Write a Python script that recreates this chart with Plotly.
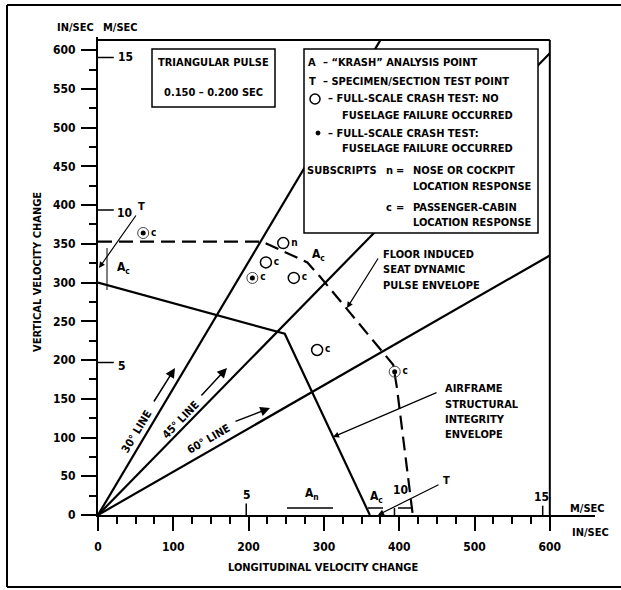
import plotly.graph_objects as go

# ---------------- data (in/sec) ----------------
airframe_x = [0, 248, 361]
airframe_y = [300, 234, 0]
floor_x = [0, 218, 278, 295, 392, 397, 418]
floor_y = [353, 353, 326, 307.5, 194, 164, 0]
line30_x = [0, 375]
line30_y = [0, 613]
line45_x = [0, 600]
line45_y = [0, 596]
line60_x = [0, 600]
line60_y = [0, 335]
open_x = [246, 223, 260, 291]
open_y = [351, 326, 306, 213]
open_sub = ["n", "c", "c", "c"]
fail_x = [60, 205, 394]
fail_y = [364, 306, 185]
fail_sub = ["c", "c", "c"]
y_ticks = list(range(0, 601, 50))
x_ticks = list(range(0, 601, 100))
ms_ticks = [5, 10, 15]
IN_PER_M = 39.37

FONT = "Liberation Sans Narrow, DejaVu Sans Condensed, Arial Narrow, Liberation Sans, sans-serif"
FS = 11

# plot area in pixels
L, R, T, B = 98, 595, 37, 515
W, H = R - L, B - T
XMAX, YMAX = 660, 617


def PX(x):
    return (x - L) / W


def PY(y):
    return (B - y) / H


fig = go.Figure()

blk = dict(color="black", width=2.2)
for xs, ys in [(airframe_x, airframe_y), (line30_x, line30_y),
               (line45_x, line45_y), (line60_x, line60_y)]:
    fig.add_trace(go.Scatter(x=xs, y=ys, mode="lines", line=blk,
                             hoverinfo="skip", showlegend=False))
fig.add_trace(go.Scatter(x=floor_x, y=floor_y, mode="lines",
                         line=dict(color="black", width=2.2, dash="14px,7px"),
                         hoverinfo="skip", showlegend=False))

# open circles
fig.add_trace(go.Scatter(x=open_x, y=open_y, mode="markers+text",
                         text=open_sub, textposition="middle right",
                         textfont=dict(family=FONT, size=10, color="black", weight="bold"),
                         marker=dict(symbol="circle-open", size=11, color="black",
                                     line=dict(color="black", width=1.5)),
                         cliponaxis=False, showlegend=False))
# failure points: thin circle + dot
fig.add_trace(go.Scatter(x=fail_x, y=fail_y, mode="markers+text",
                         text=fail_sub, textposition="middle right",
                         textfont=dict(family=FONT, size=10, color="black", weight="bold"),
                         marker=dict(symbol="circle-open", size=11, color="#444",
                                     line=dict(color="#444", width=1)),
                         cliponaxis=False, showlegend=False))
fig.add_trace(go.Scatter(x=fail_x, y=fail_y, mode="markers",
                         marker=dict(symbol="circle", size=5, color="black"),
                         cliponaxis=False, showlegend=False))

shapes = []
# frame top and right
shapes.append(dict(type="line", xref="x", yref="y", x0=0, x1=600, y0=613, y1=613,
                   line=dict(color="black", width=2)))
shapes.append(dict(type="line", xref="x", yref="y", x0=600, x1=600, y0=0, y1=613,
                   line=dict(color="black", width=2)))
# m/sec ticks on y axis
for m in ms_ticks:
    shapes.append(dict(type="line", xref="x", yref="y", x0=0, x1=21,
                       y0=m * IN_PER_M, y1=m * IN_PER_M, line=dict(color="black", width=1.5)))
# m/sec ticks on x axis
for m, ln in zip(ms_ticks, [15, 9, 12]):
    shapes.append(dict(type="line", xref="x", yref="y", x0=m * IN_PER_M, x1=m * IN_PER_M,
                       y0=0, y1=ln, line=dict(color="black", width=1.5)))

# boxes
shapes.append(dict(type="rect", xref="paper", yref="paper", x0=PX(304), x1=PX(538),
                   y0=PY(233), y1=PY(49), fillcolor="white",
                   line=dict(color="black", width=1.5), layer="above"))
shapes.append(dict(type="rect", xref="paper", yref="paper", x0=PX(152), x1=PX(275),
                   y0=PY(107), y1=PY(49), fillcolor="white",
                   line=dict(color="black", width=1.5), layer="above"))
# legend symbols
shapes.append(dict(type="circle", xref="paper", yref="paper", x0=PX(310), x1=PX(320),
                   y0=PY(104), y1=PY(94), line=dict(color="black", width=1.5), layer="above"))
shapes.append(dict(type="circle", xref="paper", yref="paper", x0=PX(316), x1=PX(320),
                   y0=PY(135), y1=PY(131), fillcolor="black",
                   line=dict(color="black", width=1), layer="above"))

# dimension marks
thin = dict(color="black", width=1)
shapes.append(dict(type="line", xref="paper", yref="paper", x0=PX(107), x1=PX(107),
                   y0=PY(290), y1=PY(248), line=thin))
for a, b in [(287, 333), (368, 383), (398, 413)]:
    shapes.append(dict(type="line", xref="paper", yref="paper", x0=PX(a), x1=PX(b),
                       y0=PY(508), y1=PY(508), line=dict(color="black", width=1.5)))

# outer border
ob = dict(color="black", width=2)
shapes.append(dict(type="line", xref="paper", yref="paper", x0=PX(7), x1=PX(625),
                   y0=PY(5), y1=PY(5), line=ob))
shapes.append(dict(type="line", xref="paper", yref="paper", x0=PX(7), x1=PX(7),
                   y0=PY(5), y1=PY(587), line=ob))
shapes.append(dict(type="line", xref="paper", yref="paper", x0=PX(7), x1=PX(625),
                   y0=PY(587), y1=PY(587), line=ob))

ann = []


def lab(text, x, y, anchor="center", size=FS, angle=0):
    ann.append(dict(text=text, x=PX(x), y=PY(y), xref="paper", yref="paper",
                    xanchor=anchor, yanchor="middle", showarrow=False,
                    textangle=angle,
                    font=dict(family=FONT, size=size, color="black", weight="bold")))


def arrow(x0, y0, x1, y1, width=1.2, size=1.0):
    ann.append(dict(text="", x=PX(x1), y=PY(y1), xref="paper", yref="paper",
                    ax=x0 - x1, ay=y0 - y1, axref="pixel", ayref="pixel",
                    showarrow=True, arrowhead=2, arrowsize=size, arrowwidth=width,
                    arrowcolor="black", standoff=0, startstandoff=0))


# units
lab("IN/SEC", 75, 28)
lab("M/SEC", 120, 28)
lab("M/SEC", 568, 508, anchor="left")
lab("IN/SEC", 570, 532, anchor="left")

# axis titles
lab("LONGITUDINAL VELOCITY CHANGE", 323, 567)
lab("VERTICAL VELOCITY CHANGE", 37, 272, angle=-90)

# m/sec labels
lab("15", 116, 57, anchor="left", size=12)
lab("10", 115, 213, anchor="left", size=12)
lab("5", 116, 366, anchor="left", size=12)
lab("5", 247, 495, size=12)
lab("10", 400, 490, size=12)
lab("15", 541, 497, size=12)

# triangular pulse box
lab("TRIANGULAR PULSE", 213, 62)
lab("0.150 \u2013 0.200 SEC", 213, 93)

# legend box text
lab("A", 312, 62)
lab("\u2013 \u201cKRASH\u201d ANALYSIS POINT", 321, 62, anchor="left")
lab("T", 312, 81)
lab("\u2013 SPECIMEN/SECTION TEST POINT", 321, 81, anchor="left")
lab("\u2013 FULL-SCALE CRASH TEST: NO", 326, 99, anchor="left")
lab("FUSELAGE FAILURE OCCURRED", 340, 115, anchor="left")
lab("\u2013 FULL-SCALE CRASH TEST:", 326, 133, anchor="left")
lab("FUSELAGE FAILURE OCCURRED", 340, 148, anchor="left")
lab("SUBSCRIPTS", 305, 170, anchor="left")
lab("n", 389, 170)
lab("=", 400, 170)
lab("NOSE OR COCKPIT", 411, 170, anchor="left")
lab("LOCATION RESPONSE", 411, 186, anchor="left")
lab("c", 389, 207)
lab("=", 400, 207)
lab("PASSENGER-CABIN", 411, 207, anchor="left")
lab("LOCATION RESPONSE", 411, 222, anchor="left")

# envelope labels
for i, t in enumerate(["FLOOR INDUCED", "SEAT DYNAMIC", "PULSE ENVELOPE"]):
    lab(t, 381, 254 + i * 15.5, anchor="left")
arrow(379, 257, 347, 308)
for i, t in enumerate(["AIRFRAME", "STRUCTURAL", "INTEGRITY", "ENVELOPE"]):
    lab(t, 443, 389 + i * 15.3, anchor="left")
arrow(438, 392, 333, 437)

# line labels
lab("30\u00b0 LINE", 136, 432, angle=-59)
arrow(153, 403, 175, 368, width=1.5, size=1.3)
lab("45\u00b0 LINE", 180, 420, angle=-46)
arrow(200, 397, 227, 368, width=1.5, size=1.3)
lab("60\u00b0 LINE", 208, 439, angle=-30)
arrow(234, 422, 270, 408, width=1.5, size=1.3)

# T and A labels
lab("T", 141, 206)
arrow(137, 214, 99, 268)
lab("T", 446, 480)
arrow(440, 484, 378, 515)
lab("A<sub>c</sub>", 123, 268, size=12)
lab("A<sub>c</sub>", 318, 255, size=12)
lab("A<sub>n</sub>", 312, 494, size=12)
lab("A<sub>c</sub>", 376, 497, size=12)

tickfont = dict(family=FONT, size=12, color="black", weight="bold")
fig.update_layout(
    width=621, height=590,
    margin=dict(l=L, r=621 - R, t=T, b=590 - B, pad=0),
    paper_bgcolor="white", plot_bgcolor="white",
    showlegend=False,
    shapes=shapes, annotations=ann,
    xaxis=dict(range=[0, XMAX], showgrid=False, zeroline=False,
               showline=True, linecolor="black", linewidth=2,
               ticks="outside", tickvals=x_ticks, ticklen=14, tickwidth=2,
               tickcolor="black", tickfont=tickfont, ticklabelstandoff=6,
               minor=dict(tickvals=[v for v in range(25, 601, 25) if v % 100],
                          ticks="outside", ticklen=7, tickwidth=1.5, tickcolor="black"),
               fixedrange=True),
    yaxis=dict(range=[0, YMAX], showgrid=False, zeroline=False,
               showline=True, linecolor="black", linewidth=2,
               ticks="outside", tickvals=y_ticks, ticklen=15, tickwidth=2,
               tickcolor="black", tickfont=tickfont, ticklabelstandoff=3,
               minor=dict(tickvals=[v for v in range(25, 601, 25) if v % 50],
                          ticks="outside", ticklen=7, tickwidth=1.5, tickcolor="black"),
               fixedrange=True),
)

fig.write_html("out.html")
